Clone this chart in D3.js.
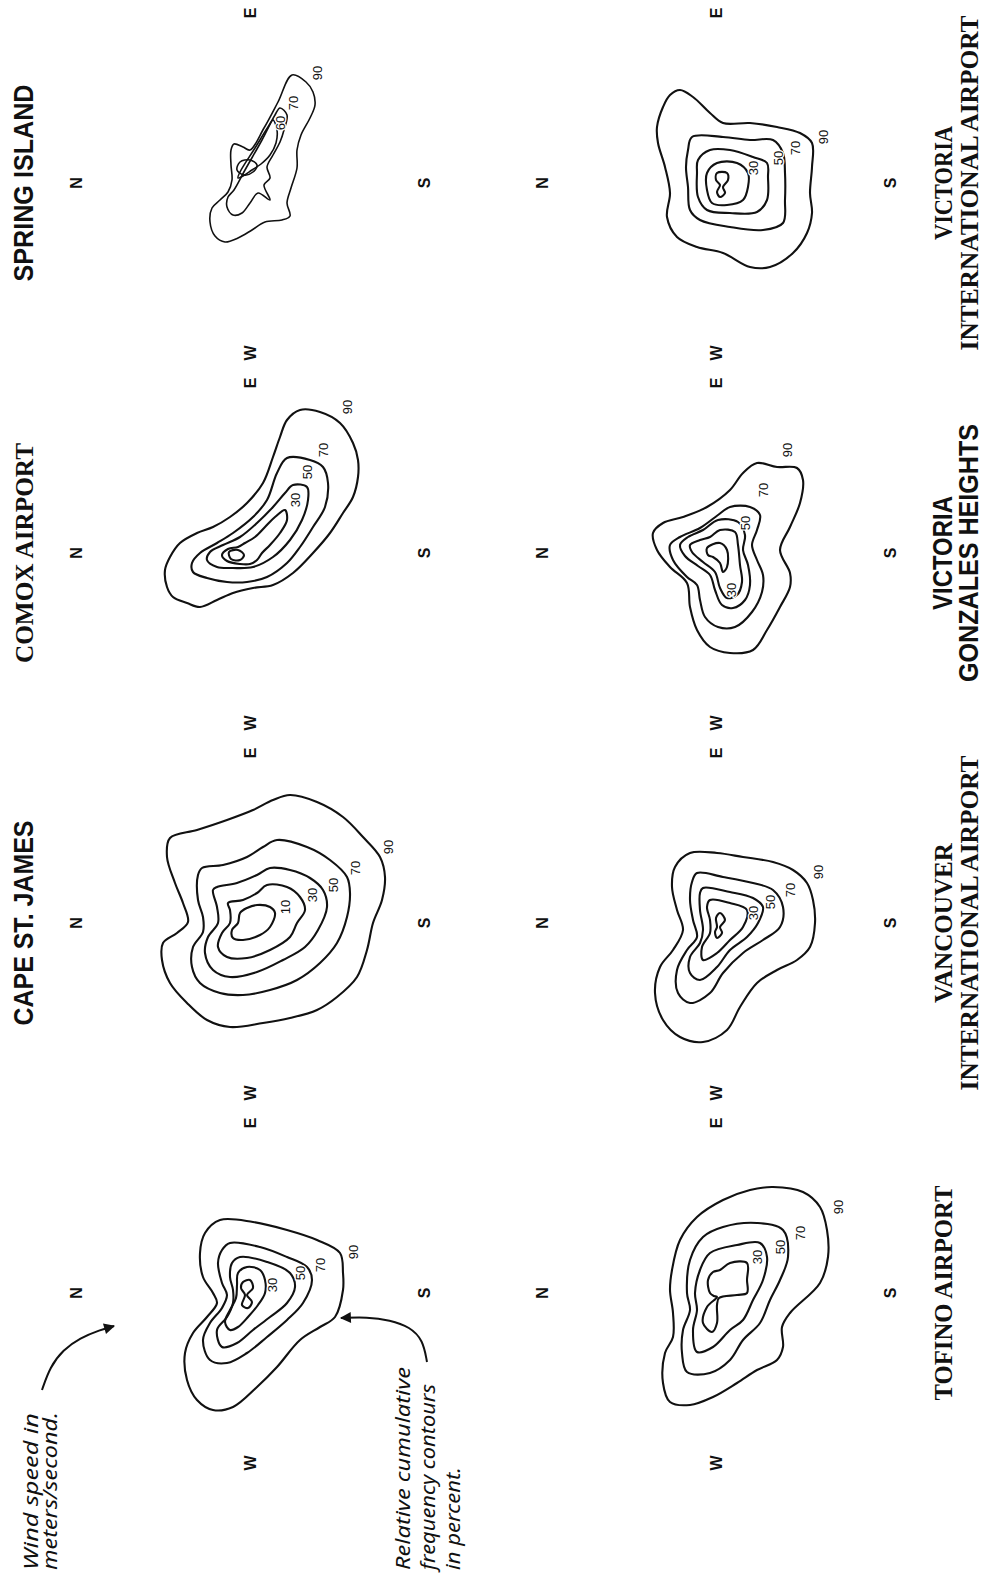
<!DOCTYPE html>
<html><head><meta charset="utf-8">
<script src="https://cdn.jsdelivr.net/npm/d3@7/dist/d3.min.js"></script>
<style>html,body{margin:0;padding:0;background:#fff}svg{display:block}</style>
</head><body>
<svg id="chart"></svg>
<script>
// ===== DATA: contour vertices in wind-vector space [east, north] (m/s), per station =====
const sampleContours = [
 {level:90, pts:[[7.3,3.0],[7.1,-0.3],[6.3,-3.7],[5.3,-6.7],[4.0,-9.0],[2.0,-9.3],[0.3,-9.3],[-2.4,-8.5],[-3.4,-7.0],[-4.7,-5.0],[-7.4,-2.7],[-9.4,-0.7],[-11.4,1.7],[-11.7,3.7],[-10.7,5.3],[-8.7,6.3],[-6.0,6.5],[-4.0,5.7],[-2.4,4.3],[-1.0,3.3],[0.0,3.7],[1.6,4.7],[4.0,5.0],[6.0,4.5]]},
 {level:70, pts:[[5.0,2.0],[4.6,-1.0],[3.6,-3.7],[2.6,-5.7],[1.3,-6.2],[-1.0,-5.3],[-2.7,-3.7],[-4.4,-1.7],[-6.0,0.3],[-7.0,2.3],[-6.7,4.0],[-4.7,4.7],[-3.0,4.0],[-1.5,2.8],[-0.2,2.3],[1.0,2.8],[3.0,3.2],[4.3,2.8]]},
 {level:50, pts:[[3.6,1.0],[3.1,-1.7],[2.0,-4.0],[0.6,-4.5],[-1.0,-3.7],[-2.4,-2.0],[-3.7,-0.3],[-5.0,1.3],[-5.4,2.8],[-3.7,3.3],[-2.4,2.3],[-1.0,1.7],[0.3,1.7],[1.6,2.0],[3.0,1.8]]},
 {level:30, pts:[[2.6,0.3],[2.3,-1.0],[1.3,-1.5],[0.0,-1.5],[-1.2,-0.8],[-2.4,0.2],[-3.4,1.2],[-3.7,2.0],[-2.9,2.5],[-1.7,2.0],[-0.5,1.4],[0.8,1.3],[2.0,1.2]]},
 {level:10, pts:[[1.1,0.7],[1.3,0.0],[0.5,-0.3],[-0.2,0.3],[-0.9,-0.2],[-1.5,0.2],[-1.2,0.8],[-0.2,0.5],[0.5,0.9]]}
];
const sampleLabels = [[90,4.1,-10.3],[70,2.8,-7.0],[50,2.0,-5.0],[30,0.8,-2.2]];

const capeContours = [
 {level:90, pts:[[12.8,-4.0],[12.1,-6.7],[10.6,-9.3],[8.6,-11.3],[6.6,-13.0],[4.6,-13.5],[2.3,-13.2],[0.0,-12.3],[-2.7,-11.7],[-5.4,-10.7],[-7.4,-8.7],[-8.7,-6.7],[-9.5,-4.0],[-10.0,-1.3],[-10.4,2.0],[-9.7,4.3],[-8.0,6.3],[-6.0,8.0],[-3.7,8.8],[-2.0,8.7],[-1.0,7.3],[0.1,6.2],[2.0,6.7],[4.0,7.5],[6.6,8.3],[8.5,8.0],[9.3,5.3],[10.3,2.3],[11.3,-0.3],[12.3,-2.3]]},
 {level:70, pts:[[8.3,-2.7],[7.6,-5.7],[6.3,-8.0],[4.6,-9.7],[3.0,-10.0],[0.6,-9.7],[-2.0,-8.7],[-4.0,-7.0],[-5.7,-4.7],[-6.7,-2.0],[-7.2,0.7],[-7.0,3.0],[-6.0,5.0],[-4.4,5.8],[-2.4,5.7],[-0.9,4.7],[0.6,4.7],[2.3,5.2],[4.8,5.2],[5.5,4.8],[5.8,2.7],[6.6,0.3],[7.6,-1.3]]},
 {level:50, pts:[[5.5,-2.0],[5.3,-4.0],[4.5,-6.0],[3.3,-7.3],[1.6,-7.7],[-0.7,-6.8],[-2.4,-5.5],[-3.7,-3.3],[-4.9,-0.7],[-5.4,2.0],[-4.7,3.7],[-3.0,4.5],[-1.4,4.2],[0.0,3.2],[1.6,3.3],[3.3,3.7],[3.6,3.3],[4.0,1.3],[4.8,-0.7]]},
 {level:30, pts:[[3.8,-1.7],[3.6,-3.7],[2.6,-5.0],[1.3,-5.5],[0.0,-4.7],[-1.4,-4.0],[-2.7,-2.0],[-3.5,0.3],[-3.4,2.3],[-2.4,3.2],[-1.0,2.8],[0.0,2.0],[1.3,2.0],[2.0,2.2],[2.3,0.7],[3.0,-0.7]]},
 {level:10, pts:[[1.8,-0.7],[1.6,-2.0],[1.0,-2.5],[-0.4,-2.0],[-1.2,-1.0],[-1.7,0.7],[-1.5,1.7],[-0.7,1.8],[0.0,1.2],[1.0,1.0],[1.5,0.3]]}
];
const capeLabels = [[90,7.6,-13.8],[70,5.5,-10.5],[50,3.8,-8.3],[30,2.8,-6.2],[10,1.6,-3.5]];

const comoxContours = [
 {level:90, pts:[[14.3,-5.0],[14.1,-7.0],[13.0,-9.0],[11.0,-10.3],[9.3,-10.8],[7.6,-10.8],[5.6,-10.3],[4.0,-9.3],[2.0,-8.0],[0.0,-6.3],[-2.0,-4.3],[-3.2,-2.3],[-3.5,-0.3],[-4.0,1.7],[-4.7,3.3],[-5.4,5.0],[-5.0,6.3],[-4.4,7.7],[-3.4,8.3],[-1.7,8.5],[-0.4,8.0],[1.0,7.0],[2.0,5.3],[2.6,3.7],[3.6,2.0],[5.0,0.3],[7.0,-1.3],[9.6,-2.3],[11.6,-3.0],[13.3,-3.7]]},
 {level:70, pts:[[9.5,-3.7],[9.3,-6.0],[8.6,-7.3],[7.0,-7.8],[4.6,-7.5],[2.6,-6.3],[0.6,-5.0],[-1.0,-3.7],[-2.4,-1.7],[-2.9,0.3],[-2.9,2.3],[-2.5,4.3],[-1.9,5.7],[-1.0,5.8],[0.0,5.0],[1.0,3.3],[2.0,1.7],[3.6,-0.3],[5.3,-1.7],[8.0,-2.7]]},
 {level:50, pts:[[6.8,-4.3],[6.6,-5.7],[5.3,-5.8],[3.3,-5.2],[1.3,-4.0],[-0.4,-2.3],[-1.4,-0.3],[-1.5,1.7],[-1.4,3.3],[-0.7,4.3],[0.1,4.0],[0.8,2.7],[1.6,1.0],[3.0,-0.7],[4.6,-2.3],[6.0,-3.5]]},
 {level:30, pts:[[4.3,-3.5],[3.3,-3.7],[2.0,-3.0],[0.8,-2.0],[0.0,-1.2],[-0.7,-0.7],[-1.1,0.0],[-1.1,1.0],[-0.8,2.3],[-0.2,2.8],[0.4,2.2],[0.6,1.2],[1.0,0.5],[1.6,-0.5],[2.6,-1.5],[3.6,-2.5]]},
 {level:10, pts:[[0.1,2.1],[0.3,1.2],[-0.2,0.6],[-0.7,1.0],[-0.6,1.9]]}
];
const comoxLabels = [[90,14.6,-9.7],[70,10.3,-7.3],[50,8.1,-5.7],[30,5.3,-4.5]];

const springContours = [
 {level:90, pts:[[10.8,-4.2],[10.1,-5.6],[9.1,-6.3],[7.8,-6.5],[6.5,-6.0],[4.8,-5.1],[3.3,-4.7],[1.5,-4.7],[-0.5,-4.1],[-2.0,-3.7],[-3.3,-4.0],[-3.7,-3.2],[-3.9,-1.5],[-4.7,-0.2],[-5.5,1.2],[-5.9,2.5],[-5.3,3.5],[-3.9,4.0],[-2.5,3.8],[-1.7,3.0],[-0.9,2.2],[0.3,1.8],[1.8,1.9],[3.3,1.9],[3.9,1.6],[3.6,0.7],[3.3,0.0],[5.5,-1.4],[8.1,-2.8]]},
 {level:70, pts:[[7.5,-3.0],[6.8,-3.7],[5.3,-3.4],[4.1,-3.0],[2.8,-2.3],[1.6,-1.7],[0.5,-2.0],[-0.2,-1.4],[-1.7,-2.0],[-1.0,-0.8],[-2.0,0.0],[-3.0,0.8],[-3.2,1.7],[-2.4,2.3],[-1.4,2.2],[-0.7,1.6],[1.3,0.5],[4.3,-1.2],[6.8,-2.5]]},
 {level:60, pts:[[6.3,-2.3],[5.3,-2.7],[4.0,-2.6],[2.8,-2.0],[1.9,-1.1],[1.3,-0.2],[0.7,0.7],[0.5,1.2],[1.1,1.0],[3.5,-0.5],[5.6,-1.8]]},
 {level:50, pts:[[2.1,1.0],[2.3,0.0],[1.8,-0.7],[1.1,-0.3],[0.8,0.6],[1.3,1.3]]}
];
const springLabels = [[90,11.0,-6.7],[70,8.0,-4.3],[60,6.0,-3.0]];

const tofinoContours = [
 {level:90, pts:[[10.6,-5.7],[10.1,-8.7],[8.6,-10.4],[6.3,-11.1],[3.6,-11.2],[1.0,-10.4],[-2.0,-7.4],[-3.4,-6.6],[-5.4,-6.7],[-6.7,-6.1],[-7.7,-4.1],[-9.0,-2.1],[-10.4,0.3],[-11.2,2.6],[-10.9,4.6],[-9.0,5.3],[-6.0,5.1],[-4.4,4.3],[-2.0,4.3],[0.3,4.6],[2.3,4.4],[5.3,3.6],[7.6,1.9],[9.3,-0.7],[10.3,-3.4]]},
 {level:70, pts:[[6.6,-0.7],[7.0,-4.1],[6.3,-6.7],[3.6,-7.2],[1.3,-6.4],[-0.7,-5.4],[-3.0,-4.4],[-4.7,-2.7],[-6.7,-1.4],[-8.0,0.6],[-7.9,2.9],[-6.0,3.4],[-3.7,3.3],[-1.7,2.6],[0.0,2.9],[3.3,2.6],[5.6,1.3]]},
 {level:50, pts:[[4.0,0.6],[4.8,-2.1],[5.0,-4.4],[3.6,-5.1],[1.3,-4.7],[-0.7,-3.7],[-2.7,-2.7],[-3.7,-1.4],[-5.4,0.3],[-5.9,1.9],[-3.7,2.3],[-1.7,1.9],[0.0,2.1],[2.3,1.6]]},
 {level:30, pts:[[-0.4,-0.1],[-1.4,0.9],[-3.0,1.3],[-3.9,0.4],[-3.0,-0.1],[-1.2,-0.1],[-0.5,-0.3],[-0.2,-2.1],[0.0,-3.1],[1.3,-3.1],[3.0,-3.1],[3.0,-1.4],[2.3,-0.4],[2.1,0.3],[1.3,0.8],[0.0,0.6],[-0.3,0.2]]}
];
const tofinoLabels = [[90,8.6,-12.2],[70,6.0,-8.4],[50,4.6,-6.4],[30,3.6,-4.1]];

const vancouverContours = [
 {level:90, pts:[[7.0,2.6],[7.0,-0.1],[6.6,-2.7],[6.1,-5.7],[5.3,-7.7],[4.0,-9.1],[2.3,-9.7],[0.0,-9.9],[-2.4,-9.4],[-3.7,-8.1],[-4.7,-6.1],[-6.0,-4.1],[-8.4,-2.4],[-10.7,-1.1],[-11.9,1.3],[-11.4,3.6],[-9.7,5.3],[-7.0,6.1],[-4.4,5.6],[-2.7,4.3],[-0.7,3.3],[1.3,3.9],[3.6,4.4],[5.6,4.1]]},
 {level:70, pts:[[5.0,1.9],[4.6,-0.7],[4.0,-3.7],[3.3,-5.7],[1.6,-6.7],[-0.4,-6.4],[-1.7,-4.7],[-3.0,-2.7],[-5.0,-0.7],[-7.0,0.6],[-8.0,2.6],[-7.0,3.8],[-4.7,3.9],[-2.7,2.9],[-1.4,1.9],[0.3,2.3],[2.3,2.6],[4.1,2.4]]},
 {level:50, pts:[[3.5,1.3],[3.1,-1.4],[2.5,-3.7],[1.6,-4.7],[0.0,-4.2],[-1.4,-3.1],[-2.7,-1.4],[-4.4,-0.1],[-5.7,1.6],[-5.0,2.6],[-3.4,2.6],[-2.0,1.6],[-0.7,1.3],[1.3,1.6],[3.0,1.6]]},
 {level:30, pts:[[2.3,0.6],[2.0,-1.4],[1.3,-3.1],[-0.4,-2.7],[-1.7,-1.4],[-3.0,-0.1],[-3.7,1.3],[-2.4,1.4],[-1.0,0.6],[0.3,0.6],[1.6,0.9]]},
 {level:10, pts:[[1.0,-0.4],[0.3,-0.9],[-0.4,-0.4],[-1.0,-0.6],[-1.5,-0.1],[-0.9,0.1],[-0.4,-0.1],[0.5,0.0]]}
];
const vancouverLabels = [[90,5.1,-10.2],[70,3.3,-7.4],[50,2.1,-5.4],[30,1.0,-3.7]];

const gonzalesContours = [
 {level:90, pts:[[9.0,-4.1],[8.6,-6.1],[8.5,-8.1],[7.3,-8.7],[5.0,-8.4],[2.6,-7.4],[0.3,-6.4],[-2.0,-7.4],[-3.4,-7.4],[-5.4,-6.4],[-7.7,-5.1],[-9.7,-3.7],[-10.0,-1.4],[-9.4,0.6],[-7.7,1.9],[-5.4,2.6],[-3.0,2.9],[-1.4,4.6],[0.3,5.9],[2.0,6.3],[3.0,5.3],[3.6,3.3],[4.6,0.9],[6.3,-1.4],[8.0,-2.7]]},
 {level:70, pts:[[4.6,-1.4],[4.6,-3.4],[3.8,-4.4],[2.3,-4.1],[0.8,-3.6],[-0.7,-4.1],[-2.2,-4.7],[-3.9,-4.6],[-5.9,-3.6],[-7.4,-1.9],[-7.4,-0.2],[-6.4,1.1],[-4.7,1.6],[-3.2,1.9],[-2.4,2.9],[-0.7,4.3],[0.8,4.6],[1.6,3.6],[2.5,1.6],[3.8,-0.2]]},
 {level:50, pts:[[3.3,-0.2],[3.1,-2.2],[1.8,-2.9],[0.3,-2.7],[-1.2,-3.2],[-3.2,-3.4],[-4.7,-2.9],[-5.5,-1.7],[-5.2,-0.6],[-3.7,0.1],[-2.2,0.6],[-1.3,1.8],[-0.3,3.1],[0.8,3.6],[1.6,2.8],[2.3,1.3]]},
 {level:30, pts:[[2.3,-0.4],[2.1,-1.9],[0.8,-2.2],[-1.2,-2.4],[-2.9,-2.6],[-4.2,-2.1],[-4.5,-1.1],[-3.5,-0.4],[-1.9,0.1],[-0.9,1.3],[0.1,2.4],[0.8,2.6],[1.3,1.6],[1.6,0.6]]},
 {level:10, pts:[[0.5,0.9],[1.0,-0.4],[0.3,-1.1],[-1.4,-1.1],[-1.9,-0.7],[-1.0,-0.4],[-0.4,0.3],[-0.2,0.8]]}
];
const gonzalesLabels = [[90,10.3,-7.1],[70,6.3,-4.7],[50,3.0,-2.9],[30,-3.7,-1.5]];

const vicIntlContours = [
 {level:90, pts:[[9.3,3.6],[8.6,2.3],[7.0,0.6],[6.0,-0.7],[6.0,-3.4],[5.6,-6.1],[5.0,-8.4],[4.0,-9.6],[1.6,-9.6],[-1.0,-9.4],[-3.0,-9.6],[-5.0,-9.1],[-7.0,-7.7],[-8.4,-5.4],[-8.4,-3.4],[-7.0,-0.7],[-6.4,1.9],[-5.4,3.9],[-3.4,4.9],[-1.0,4.6],[1.6,5.1],[4.0,5.8],[5.6,5.9],[7.6,5.3],[8.8,4.6]]},
 {level:70, pts:[[4.6,2.4],[4.6,-0.7],[4.3,-3.4],[4.3,-5.7],[3.0,-6.7],[1.0,-6.9],[-1.7,-6.9],[-4.0,-6.7],[-4.7,-4.7],[-4.4,-1.4],[-3.7,1.6],[-2.7,2.6],[-0.4,2.8],[1.6,3.0],[3.3,2.8]]},
 {level:50, pts:[[3.3,0.6],[3.3,-1.4],[2.6,-3.7],[2.0,-5.1],[0.6,-5.2],[-1.7,-5.1],[-2.9,-4.1],[-3.0,-1.4],[-2.7,0.9],[-1.4,1.8],[1.0,1.9],[2.3,1.8]]},
 {level:30, pts:[[2.0,-0.1],[2.0,-2.1],[1.0,-3.2],[-0.4,-3.2],[-1.7,-2.7],[-2.2,-1.1],[-2.0,0.4],[-0.7,0.9],[1.0,0.9]]},
 {level:10, pts:[[1.0,-0.1],[1.0,-1.1],[0.3,-1.2],[-0.4,-0.7],[-1.0,-0.9],[-1.4,-0.4],[-0.9,-0.1],[-0.2,-0.4],[0.3,0.0]]}
];
const vicIntlLabels = [[90,4.6,-10.7],[70,3.5,-7.9],[50,2.5,-6.2],[30,1.5,-3.7]];

// station titles (bottom-row titles are set on two lines)
const stationTitles = [
 [], ["CAPE ST. JAMES"], ["COMOX AIRPORT"], ["SPRING ISLAND"],
 ["TOFINO AIRPORT"], ["VANCOUVER","INTERNATIONAL AIRPORT"], ["VICTORIA","GONZALES HEIGHTS"], ["VICTORIA","INTERNATIONAL AIRPORT"]
];
const compassLetters = ["N","E","S","W"];
const windNote = ["Wind speed in", "meters/second."];
const contourNote = ["Relative cumulative", "frequency contours", "in percent."];
const windArrow = [[-9.7,20.8],[-7.4,20.0],[-5.7,18.7],[-4.5,17.0],[-3.7,15.0],[-3.3,13.6]];
const contourArrow = [[-6.9,-17.7],[-4.7,-17.3],[-3.4,-16.0],[-2.7,-14.0],[-2.4,-11.7],[-2.5,-9.1]];

// ===== LAYOUT =====
const W = 985, H = 1582;
const panels = [
 {c:sampleContours,    l:sampleLabels,    col:0,row:0, t:stationTitles[0], serif:false},
 {c:capeContours,      l:capeLabels,      col:1,row:0, t:stationTitles[1], serif:false},
 {c:comoxContours,     l:comoxLabels,     col:2,row:0, t:stationTitles[2], serif:true},
 {c:springContours,    l:springLabels,    col:3,row:0, t:stationTitles[3], serif:false, thin:true},
 {c:tofinoContours,    l:tofinoLabels,    col:0,row:1, t:stationTitles[4], serif:true},
 {c:vancouverContours, l:vancouverLabels, col:1,row:1, t:stationTitles[5], serif:true},
 {c:gonzalesContours,  l:gonzalesLabels,  col:2,row:1, t:stationTitles[6], serif:false},
 {c:vicIntlContours,   l:vicIntlLabels,   col:3,row:1, t:stationTitles[7], serif:true}
];
const titleLen = {"SPRING ISLAND":197,"COMOX AIRPORT":220,"CAPE ST. JAMES":205,"TOFINO AIRPORT":215,
  "VANCOUVER":160,"INTERNATIONAL AIRPORT":335,"VICTORIA":114,"GONZALES HEIGHTS":258};
const noteLen = {"Wind speed in":157,"meters/second.":158,"Relative cumulative":203,"frequency contours":186,"in percent.":103};

const svg = d3.select("#chart").attr("width", W).attr("height", H);
svg.append("rect").attr("width",W).attr("height",H).attr("fill","#fff");
svg.append("defs").append("marker").attr("id","ah").attr("viewBox","0 0 10 10")
  .attr("refX",9).attr("refY",5).attr("markerWidth",15).attr("markerHeight",11)
  .attr("markerUnits","userSpaceOnUse").attr("orient","auto")
  .append("path").attr("d","M0,0 L10,5 L0,10 Z").attr("fill","#111");

// landscape page, turned a quarter-turn counter-clockwise
const page = svg.append("g").attr("transform", `translate(0,${H}) rotate(-90)`);
const colX = d3.scaleLinear().domain([0,3]).range([289,1399]);
const rowY = [250, 716];
const xE = d3.scaleLinear().domain([-1,1]).range([-10,10]);   // east  -> right
const yN = d3.scaleLinear().domain([-1,1]).range([10,-10]);   // north -> up
const contourLine = d3.line().x(d=>xE(d[0])).y(d=>yN(d[1])).curve(d3.curveCatmullRomClosed.alpha(0.5));
const arrowLine = d3.line().x(d=>xE(d[0])).y(d=>yN(d[1])).curve(d3.curveBasis);
const compassR = {N:[0,17.4],E:[17,0],S:[0,-17.4],W:[-17,0]};

panels.forEach(p=>{
  const g = page.append("g").attr("transform",`translate(${colX(p.col)},${rowY[p.row]})`);
  g.selectAll("path.ct").data(p.c).join("path").attr("class","ct")
    .attr("d", d=>contourLine(d.pts)).attr("fill","none").attr("stroke","#111")
    .attr("stroke-width", p.thin ? 1.6 : 2.1).attr("stroke-linejoin","round");
  g.selectAll("text.lb").data(p.l).join("text").attr("class","lb")
    .attr("x", d=>xE(d[1])).attr("y", d=>yN(d[2]))
    .attr("text-anchor","middle").attr("dominant-baseline","central")
    .attr("font-family","'Liberation Sans Narrow','Liberation Sans',Arial,sans-serif")
    .attr("font-size",13).attr("fill","#111")
    .attr("stroke","#fff").attr("stroke-width",2.5).attr("paint-order","stroke")
    .text(d=>d[0]);
  g.selectAll("text.cp").data(compassLetters).join("text").attr("class","cp")
    .attr("x", d=>xE(compassR[d][0])).attr("y", d=>yN(compassR[d][1]))
    .attr("text-anchor","middle").attr("dominant-baseline","central")
    .attr("font-family","'Liberation Sans',Arial,sans-serif").attr("font-weight","bold")
    .attr("font-size",16).attr("fill","#111").text(d=>d);
  // titles
  const baseY = p.row===0 ? [33] : [952, 978];
  p.t.forEach((s,i)=>{
    page.append("text").attr("x", colX(p.col)).attr("y", baseY[i])
      .attr("text-anchor","middle")
      .attr("font-family", p.serif ? "'Liberation Serif','Times New Roman',serif" : "'Liberation Sans',Arial,sans-serif")
      .attr("font-weight","bold").attr("font-size", p.serif ? 26 : 27).attr("fill","#111")
      .attr("textLength", titleLen[s]).attr("lengthAdjust","spacingAndGlyphs")
      .text(s);
  });
  if (p.col===0 && p.row===0) {
    [windArrow, contourArrow].forEach(a=>{
      g.append("path").attr("d", arrowLine(a)).attr("fill","none").attr("stroke","#111")
        .attr("stroke-width",2).attr("marker-end","url(#ah)");
    });
  }
});

// annotation notes
const noteFont = "'Noto Sans','Open Sans',sans-serif";
windNote.forEach((s,i)=>{
  page.append("text").attr("x",12).attr("y",[38,57][i]).attr("font-family",noteFont)
    .attr("font-style","italic").attr("font-size",20).attr("fill","#111")
    .attr("textLength",noteLen[s]).attr("lengthAdjust","spacingAndGlyphs").text(s);
});
contourNote.forEach((s,i)=>{
  page.append("text").attr("x",12).attr("y",[410,435,460][i]).attr("font-family",noteFont)
    .attr("font-style","italic").attr("font-size",20).attr("fill","#111")
    .attr("textLength",noteLen[s]).attr("lengthAdjust","spacingAndGlyphs").text(s);
});
</script>
</body></html>
